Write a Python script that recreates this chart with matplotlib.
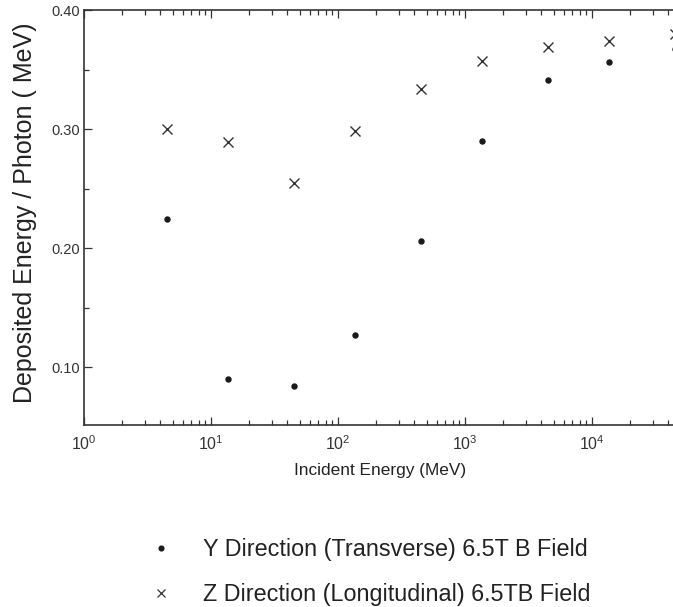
import matplotlib
matplotlib.use('Agg')
import matplotlib.pyplot as plt
from matplotlib.ticker import MultipleLocator, LogLocator, NullFormatter
from matplotlib.lines import Line2D

plt.rcParams['font.family'] = ['Liberation Sans', 'DejaVu Sans']
plt.rcParams['mathtext.fontset'] = 'custom'
plt.rcParams['mathtext.rm'] = 'Liberation Sans'

# incident energy (MeV)
energy = [4.5, 13.5, 45, 135, 450, 1350, 4500, 13500, 45000]
# deposited energy / photon (MeV)
y_dir = [0.224, 0.090, 0.084, 0.127, 0.206, 0.290, 0.341, 0.356, 0.367]
z_dir = [0.300, 0.289, 0.255, 0.298, 0.334, 0.357, 0.369, 0.374, 0.380]

y_label = 'Y Direction (Transverse) 6.5T B Field'
z_label = 'Z Direction (Longitudinal) 6.5TB Field'

fig = plt.figure(figsize=(6.73, 6.07), dpi=100)
# axes runs past the right edge of the figure like the cropped original
ax_w = 127 * 4.954
ax = fig.add_axes([84/673, 182/607, ax_w/673, 415/607])

ax.plot(energy, y_dir, linestyle='none', marker='o', markersize=3.6,
        color='#1a1a1a', clip_on=False)
ax.plot(energy, z_dir, linestyle='none', marker='x', markersize=6.5,
        markeredgewidth=1.0, color='#333333', clip_on=False)

ax.set_xscale('log')
ax.set_xlim(1, 9e4)
ax.set_ylim(0.0513, 0.40)

ax.xaxis.set_major_locator(LogLocator(base=10, numticks=10))
ax.xaxis.set_minor_locator(LogLocator(base=10, subs=range(2, 10), numticks=20))
ax.xaxis.set_minor_formatter(NullFormatter())
ax.yaxis.set_major_locator(MultipleLocator(0.10))
ax.yaxis.set_minor_locator(MultipleLocator(0.05))
ax.yaxis.set_major_formatter(plt.FuncFormatter(lambda v, p: '%.2f' % v))

ax.tick_params(which='both', direction='in', top=True, right=False,
               colors='#333333', labelcolor='#333333', width=0.9)
ax.tick_params(which='major', length=5.5, labelsize=10.5)
ax.tick_params(which='minor', length=3.5)
ax.tick_params(axis='x', which='major', pad=7, labelsize=11.5)
ax.tick_params(axis='y', which='major', pad=3)

for s in ['left', 'bottom', 'top']:
    ax.spines[s].set_color('#333333')
    ax.spines[s].set_linewidth(1.2)
ax.spines['right'].set_visible(False)

ax.set_xlabel('Incident Energy (MeV)', fontsize=12.4, color='#222222')
ax.xaxis.set_label_coords((380 - 84) / ax_w, -(463 - 425) / 415)
ax.xaxis.label.set_va('top')
ax.set_ylabel('Deposited Energy / Photon ( MeV)', fontsize=18, color='#222222')
ax.yaxis.set_label_coords(-(84 - 37) / ax_w, 0.512)

handles = [
    Line2D([], [], linestyle='none', marker='o', markersize=3.4, color='#1a1a1a'),
    Line2D([], [], linestyle='none', marker='x', markersize=5.5,
           markeredgewidth=0.9, color='#333333'),
]
fig.legend(handles, [y_label, z_label], loc='upper left',
           bbox_to_anchor=(128 / 673, 1 - 517 / 607), frameon=False,
           fontsize=16.8, labelspacing=0.95, handletextpad=1.3, handlelength=1.0,
           labelcolor='#222222')

fig.savefig('out.png', dpi=100)
